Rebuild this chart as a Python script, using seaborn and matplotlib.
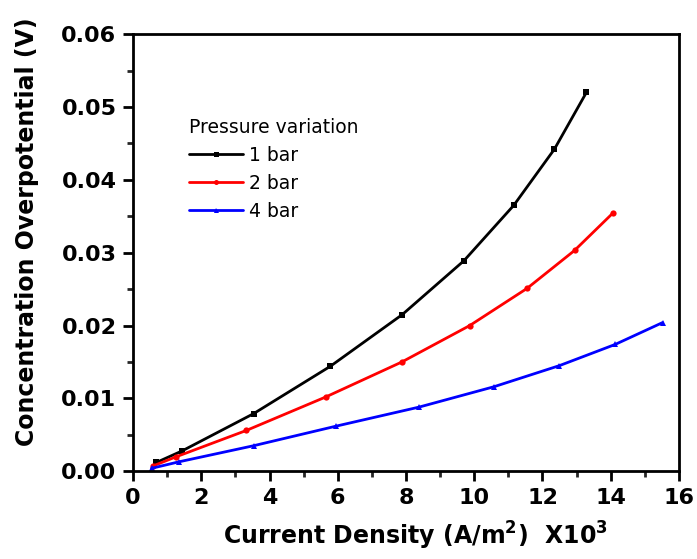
import numpy as np
import pandas as pd
import matplotlib
matplotlib.use("Agg")
import matplotlib.pyplot as plt
import seaborn as sns
from matplotlib.ticker import MultipleLocator, FormatStrFormatter

# dados (densidade de corrente x10^3 A/m2, sobrepotencial em V)
x_1bar = [0.68, 1.44, 3.53, 5.78, 7.89, 9.70, 11.16, 12.35, 13.29]
y_1bar = [0.0012, 0.0028, 0.0079, 0.0144, 0.0215, 0.0289, 0.0365, 0.0442, 0.0520]

x_2bar = [0.57, 1.27, 3.32, 5.65, 7.88, 9.87, 11.55, 12.94, 14.08]
y_2bar = [0.0007, 0.0020, 0.0056, 0.0102, 0.0150, 0.0200, 0.0251, 0.0303, 0.0355]

x_4bar = [0.54, 1.35, 3.53, 5.96, 8.38, 10.58, 12.50, 14.13, 15.52]
y_4bar = [0.0004, 0.0013, 0.0035, 0.0062, 0.0088, 0.0116, 0.0145, 0.0174, 0.0204]

labels = ["1 bar", "2 bar", "4 bar"]

df = pd.concat([
    pd.DataFrame({"x": x_1bar, "y": y_1bar, "Pressao": labels[0]}),
    pd.DataFrame({"x": x_2bar, "y": y_2bar, "Pressao": labels[1]}),
    pd.DataFrame({"x": x_4bar, "y": y_4bar, "Pressao": labels[2]}),
])

sns.set_style("ticks")
plt.rcParams["font.family"] = ["DejaVu Sans"]
plt.rcParams["mathtext.fontset"] = "dejavusans"
plt.rcParams["text.color"] = "black"
plt.rcParams["axes.labelcolor"] = "black"

fig = plt.figure(figsize=(6.97, 5.59), dpi=100)
ax = fig.add_axes([0.191, 0.157, 0.783, 0.782])

cores = {"1 bar": "black", "2 bar": "red", "4 bar": "blue"}
marcadores = {"1 bar": "s", "2 bar": "o", "4 bar": "^"}
sns.lineplot(data=df, x="x", y="y", hue="Pressao", style="Pressao",
             palette=cores, markers=marcadores, dashes=False,
             markersize=4.5, linewidth=2, markeredgewidth=0,
             sort=False, estimator=None, ax=ax)

ax.set_xlim(0, 16)
ax.set_ylim(0, 0.06)
ax.xaxis.set_major_locator(MultipleLocator(2))
ax.xaxis.set_minor_locator(MultipleLocator(1))
ax.yaxis.set_major_locator(MultipleLocator(0.01))
ax.yaxis.set_minor_locator(MultipleLocator(0.005))
ax.yaxis.set_major_formatter(FormatStrFormatter("%.2f"))

for s in ax.spines.values():
    s.set_linewidth(2)
    s.set_color("black")
ax.tick_params(which="major", direction="out", length=7, width=2,
               labelsize=16, colors="black", pad=5)
ax.tick_params(which="minor", direction="out", length=4, width=2)
for t in ax.get_xticklabels() + ax.get_yticklabels():
    t.set_fontweight("bold")

ax.set_xlabel(r"Current Density (A/m$^{\mathbf{2}}$)  X10$^{\mathbf{3}}$",
              fontsize=17, fontweight="bold")
ax.set_ylabel("Concentration Overpotential (V)", fontsize=17,
              fontweight="bold")
ax.xaxis.set_label_coords(0.518, -0.112)
ax.yaxis.set_label_coords(-0.173, 0.549)

leg = ax.legend(title="Pressure variation", loc="upper left",
                bbox_to_anchor=(0.085, 0.83), frameon=False, fontsize=13.5,
                title_fontsize=13.5, handlelength=2.9, handletextpad=0.3,
                borderpad=0, labelspacing=0.48, markerscale=0.8)
leg._legend_box.align = "left"
for h in leg.get_lines():
    h.set_linewidth(2)

fig.savefig("out.png", dpi=100)
